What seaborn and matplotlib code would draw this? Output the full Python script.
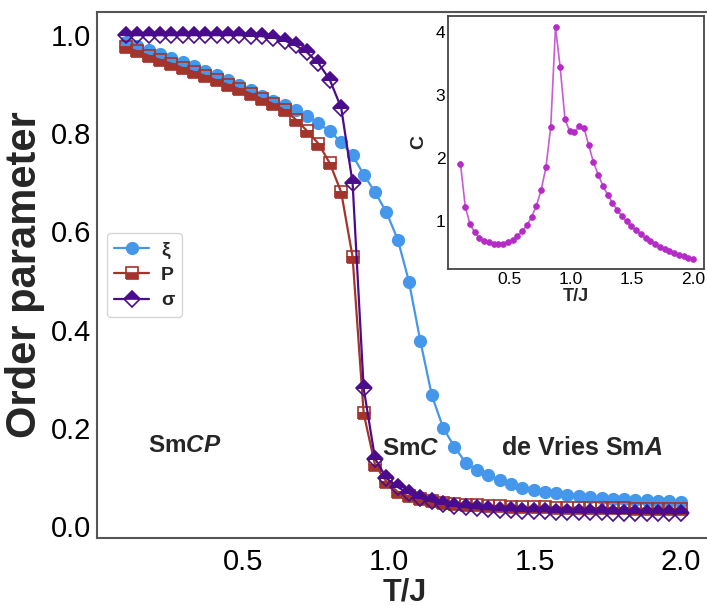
import matplotlib
matplotlib.use("Agg")
import matplotlib.pyplot as plt
from matplotlib.lines import Line2D
import seaborn as sns
import pandas as pd

# ---------------- data ----------------
T = [0.100, 0.139, 0.178, 0.216, 0.255, 0.294, 0.333, 0.371, 0.410, 0.449,
     0.488, 0.527, 0.565, 0.604, 0.643, 0.682, 0.720, 0.759, 0.798, 0.837,
     0.876, 0.914, 0.953, 0.992, 1.031, 1.069, 1.108, 1.147, 1.186, 1.225,
     1.263, 1.302, 1.341, 1.380, 1.418, 1.457, 1.496, 1.535, 1.574, 1.612,
     1.651, 1.690, 1.729, 1.767, 1.806, 1.845, 1.884, 1.923, 1.961, 2.000]

xi = [0.986, 0.978, 0.970, 0.962, 0.954, 0.946, 0.937, 0.928, 0.919, 0.909,
      0.899, 0.889, 0.877, 0.866, 0.857, 0.847, 0.835, 0.821, 0.804, 0.782,
      0.755, 0.716, 0.680, 0.639, 0.583, 0.498, 0.377, 0.267, 0.200, 0.161,
      0.129, 0.114, 0.103, 0.093, 0.085, 0.078, 0.073, 0.069, 0.066, 0.063,
      0.060, 0.058, 0.056, 0.055, 0.054, 0.053, 0.052, 0.051, 0.050, 0.049]

P = [0.975, 0.967, 0.958, 0.950, 0.942, 0.933, 0.925, 0.917, 0.908, 0.899,
     0.890, 0.881, 0.870, 0.860, 0.847, 0.828, 0.805, 0.779, 0.739, 0.680,
     0.548, 0.229, 0.124, 0.090, 0.069, 0.060, 0.054, 0.050, 0.047, 0.045,
     0.043, 0.042, 0.041, 0.040, 0.039, 0.039, 0.038, 0.038, 0.037, 0.037,
     0.037, 0.036, 0.036, 0.036, 0.036, 0.035, 0.035, 0.035, 0.035, 0.035]

sigma = [1.000, 1.000, 1.000, 1.000, 1.000, 1.000, 1.000, 1.000, 1.000, 1.000,
         1.000, 0.999, 0.998, 0.995, 0.989, 0.979, 0.965, 0.943, 0.909, 0.852,
         0.699, 0.280, 0.137, 0.097, 0.079, 0.066, 0.057, 0.050, 0.045, 0.041,
         0.038, 0.036, 0.034, 0.033, 0.032, 0.031, 0.030, 0.030, 0.029, 0.029,
         0.028, 0.028, 0.028, 0.027, 0.027, 0.027, 0.027, 0.026, 0.026, 0.026]

C = [1.906, 1.220, 0.947, 0.814, 0.730, 0.680, 0.655, 0.634, 0.630, 0.634,
     0.655, 0.690, 0.750, 0.830, 0.925, 1.064, 1.240, 1.490, 1.850, 2.490,
     4.080, 3.440, 2.620, 2.420, 2.410, 2.500, 2.480, 2.200, 1.930, 1.730,
     1.556, 1.410, 1.286, 1.170, 1.068, 0.990, 0.910, 0.846, 0.780, 0.725,
     0.677, 0.630, 0.587, 0.550, 0.518, 0.486, 0.460, 0.430, 0.407, 0.395]

series_labels = ["ξ", "P", "σ"]
main_xticks = [0.5, 1.0, 1.5, 2.0]
main_yticks = [0.0, 0.2, 0.4, 0.6, 0.8, 1.0]
inset_xticks = [0.5, 1.0, 1.5, 2.0]
inset_yticks = [1, 2, 3, 4]

# ---------------- style ----------------
sns.set_style("white")
plt.rcParams["font.family"] = ["Liberation Sans", "DejaVu Sans"]
plt.rcParams["mathtext.fontset"] = "custom"
plt.rcParams["mathtext.it"] = "Liberation Sans:italic:bold"
plt.rcParams["mathtext.rm"] = "Liberation Sans:bold"
plt.rcParams["mathtext.bf"] = "Liberation Sans:bold"

BLUE = "#4597EC"
RED = "#A3342B"
INDIGO = "#4A0C8C"
MAG = "#B52BC6"

df = pd.DataFrame({"T": T, "xi": xi, "P": P, "sigma": sigma, "C": C})

fig = plt.figure(figsize=(7.07, 6.06), dpi=100)
ax = fig.add_axes([0.137, 0.112, 0.87, 0.868])

ms = 8.5
sns.lineplot(data=df, x="T", y="xi", ax=ax, estimator=None, color=BLUE, lw=1.6,
             marker="o", markersize=ms, markeredgecolor=BLUE, markerfacecolor=BLUE,
             markeredgewidth=1.0, zorder=2)
sns.lineplot(data=df, x="T", y="P", ax=ax, estimator=None, color=RED, lw=1.6,
             marker="s", markersize=ms, markeredgecolor=RED, markerfacecolor=RED,
             fillstyle="bottom", markeredgewidth=1.2, zorder=3)
sns.lineplot(data=df, x="T", y="sigma", ax=ax, estimator=None, color=INDIGO, lw=1.6,
             marker="D", markersize=ms, markeredgecolor=INDIGO, markerfacecolor=INDIGO,
             fillstyle="top", markeredgewidth=1.2, zorder=4)

ax.set_xlim(0.0, 2.107)
ax.set_ylim(-0.025, 1.047)
ax.set_xticks(main_xticks)
ax.set_yticks(main_yticks)
ax.set_xticklabels([f"{v:.1f}" for v in main_xticks])
ax.set_yticklabels([f"{v:.1f}" for v in main_yticks])
ax.tick_params(axis="both", direction="in", length=4, width=1.0, labelsize=21,
               colors="#333333", labelcolor="black")
ax.tick_params(axis="x", pad=7)
ax.tick_params(axis="y", pad=4)
for s in ax.spines.values():
    s.set_color("#555555")
    s.set_linewidth(1.5)
ax.set_xlabel("T/J", fontsize=22, fontweight="bold", labelpad=1)
ax.set_ylabel("Order parameter", fontsize=30, fontweight="bold", labelpad=4)

# phase annotations
ax.text(0.30, 0.164, r"Sm$CP$", fontsize=17.5, fontweight="bold", ha="center", va="center")
ax.text(1.075, 0.158, r"Sm$C$", fontsize=17.5, fontweight="bold", ha="center", va="center")
ax.text(1.66, 0.158, r"de Vries Sm$A$", fontsize=18, fontweight="bold", ha="center", va="center")

handles = [
    Line2D([], [], color=BLUE, lw=1.6, marker="o", markersize=ms,
           markerfacecolor=BLUE, markeredgecolor=BLUE),
    Line2D([], [], color=RED, lw=1.6, marker="s", markersize=ms,
           markerfacecolor=RED, markeredgecolor=RED, fillstyle="bottom",
           markerfacecoloralt="white", markeredgewidth=1.2),
    Line2D([], [], color=INDIGO, lw=1.6, marker="D", markersize=ms,
           markerfacecolor=INDIGO, markeredgecolor=INDIGO, fillstyle="top",
           markerfacecoloralt="white", markeredgewidth=1.2),
]
leg = ax.legend(handles, series_labels, loc="upper left",
                bbox_to_anchor=(0.016, 0.58), borderaxespad=0.0, frameon=True,
                fancybox=True, edgecolor="#cccccc", handlelength=1.8,
                labelspacing=0.4, borderpad=0.4, handletextpad=0.6,
                prop={"size": 14, "weight": "bold"})

# ---------------- inset ----------------
axin = fig.add_axes([0.634, 0.556, 0.362, 0.418])
sns.lineplot(data=df, x="T", y="C", ax=axin, estimator=None, color="#C95BD6",
             lw=1.2, marker="o", markersize=4.2, markerfacecolor=MAG,
             markeredgecolor=MAG, markeredgewidth=0.5)
axin.set_xlim(0.0, 2.09)
axin.set_ylim(0.23, 4.26)
axin.set_xticks(inset_xticks)
axin.set_yticks(inset_yticks)
axin.set_xticklabels([f"{v:.1f}" for v in inset_xticks])
axin.set_yticklabels([str(v) for v in inset_yticks])
axin.tick_params(axis="both", direction="in", length=3, width=0.8, labelsize=12.5,
                 colors="#333333", labelcolor="black", pad=2)
for s in axin.spines.values():
    s.set_color("#444444")
    s.set_linewidth(1.3)
axin.set_xlabel("T/J", fontsize=13, fontweight="bold", labelpad=1)
axin.set_ylabel("C", fontsize=14, fontweight="bold", labelpad=6)

fig.savefig("out.png", dpi=100)
